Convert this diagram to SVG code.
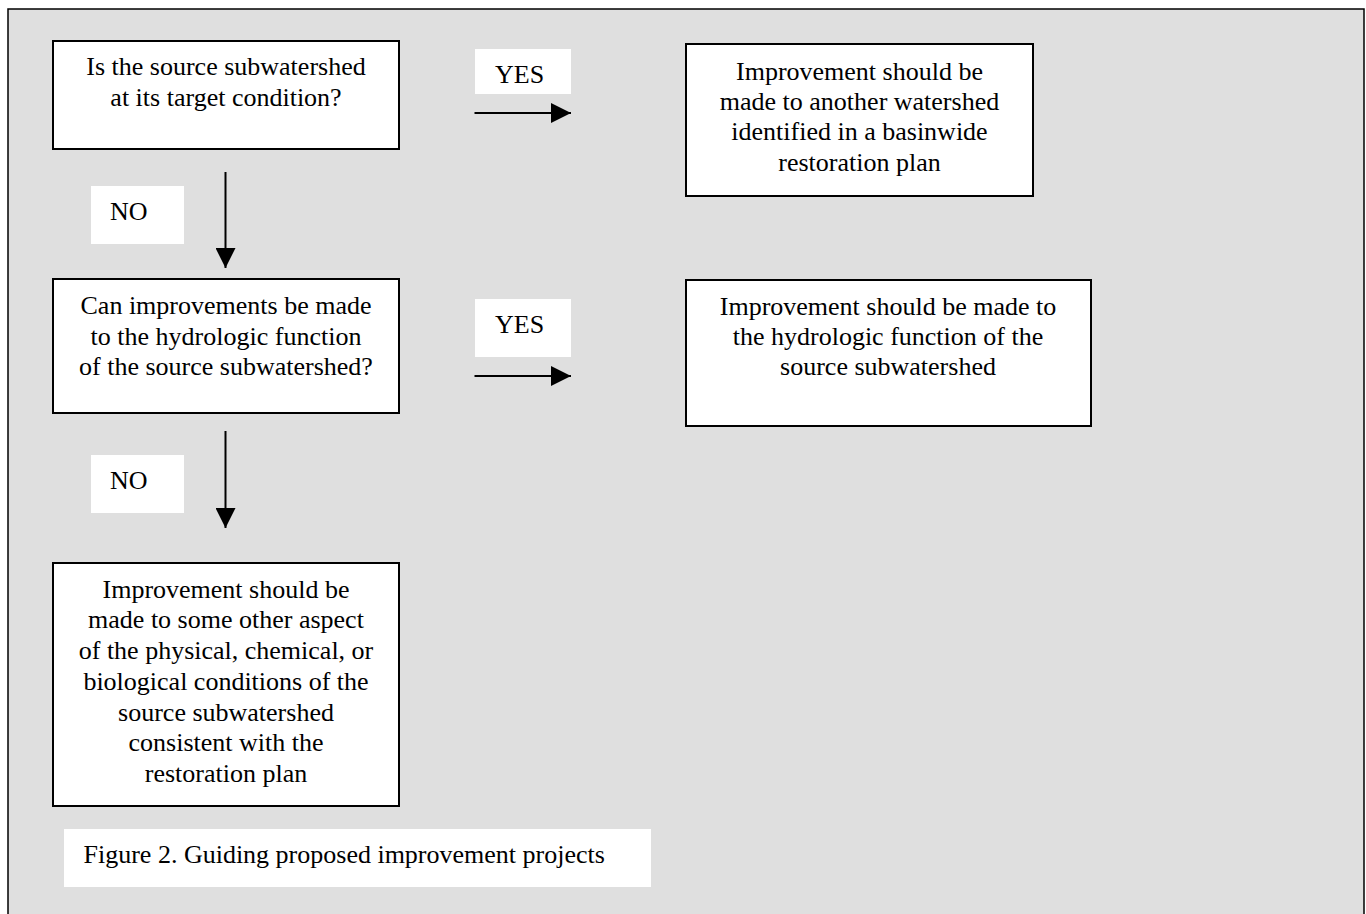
<svg xmlns="http://www.w3.org/2000/svg" width="1366" height="914" viewBox="0 0 1366 914">
<defs>
<style>
.box{fill:#ffffff;stroke:#000000;stroke-width:2}
.lbl{fill:#ffffff;stroke:none}
.t{font-family:"Liberation Serif","Times New Roman",serif;font-size:26px;fill:#000000}
.c{text-anchor:middle}
.conn{stroke:#000000;stroke-width:2;fill:none}
</style>
<marker id="ah" viewBox="0 0 20 20" refX="20" refY="10" markerWidth="20" markerHeight="20" markerUnits="userSpaceOnUse" orient="auto">
<path d="M0,0 L20,10 L0,20 Z" fill="#000000"/>
</marker>
</defs>
<rect x="0" y="0" width="1366" height="914" fill="#ffffff"/>
<rect x="8" y="9" width="1356" height="910" fill="#dfdfdf" stroke="#000000" stroke-width="1.5"/>

<g id="q1">
<rect class="box" x="53" y="41" width="346" height="108"/>
<text class="t c" x="226" y="75">Is the source subwatershed</text>
<text class="t c" x="226" y="106">at its target condition?</text>
</g>

<g id="r1">
<rect class="box" x="686" y="44" width="347" height="152"/>
<text class="t c" x="859.5" y="80">Improvement should be</text>
<text class="t c" x="859.5" y="110">made to another watershed</text>
<text class="t c" x="859.5" y="140">identified in a basinwide</text>
<text class="t c" x="859.5" y="171">restoration plan</text>
</g>

<g id="q2">
<rect class="box" x="53" y="279" width="346" height="134"/>
<text class="t c" x="226" y="314">Can improvements be made</text>
<text class="t c" x="226" y="345">to the hydrologic function</text>
<text class="t c" x="226" y="375">of the source subwatershed?</text>
</g>

<g id="r2">
<rect class="box" x="686" y="280" width="405" height="146"/>
<text class="t c" x="888" y="315">Improvement should be made to</text>
<text class="t c" x="888" y="345">the hydrologic function of the</text>
<text class="t c" x="888" y="375">source subwatershed</text>
</g>

<g id="r3">
<rect class="box" x="53" y="563" width="346" height="243"/>
<text class="t c" x="226" y="598">Improvement should be</text>
<text class="t c" x="226" y="628">made to some other aspect</text>
<text class="t c" x="226" y="659">of the physical, chemical, or</text>
<text class="t c" x="226" y="690">biological conditions of the</text>
<text class="t c" x="226" y="721">source subwatershed</text>
<text class="t c" x="226" y="751">consistent with the</text>
<text class="t c" x="226" y="782">restoration plan</text>
</g>

<g id="connectors">
<line class="conn" x1="474.5" y1="113" x2="571" y2="113" marker-end="url(#ah)"/>
<line class="conn" x1="474.5" y1="376" x2="571" y2="376" marker-end="url(#ah)"/>
<line class="conn" x1="225.5" y1="172" x2="225.5" y2="268" marker-end="url(#ah)"/>
<line class="conn" x1="225.5" y1="431" x2="225.5" y2="528" marker-end="url(#ah)"/>
</g>

<g id="labels">
<g id="yes1">
<rect class="lbl" x="475" y="49" width="96" height="45"/>
<text class="t" x="495" y="83">YES</text>
</g>
<g id="yes2">
<rect class="lbl" x="475" y="299" width="96" height="58"/>
<text class="t" x="495" y="333">YES</text>
</g>
<g id="no1">
<rect class="lbl" x="91" y="186" width="93" height="58"/>
<text class="t" x="110" y="220">NO</text>
</g>
<g id="no2">
<rect class="lbl" x="91" y="455" width="93" height="58"/>
<text class="t" x="110" y="489">NO</text>
</g>
</g>

<g id="caption">
<rect class="lbl" x="64" y="829" width="587" height="58"/>
<text class="t" x="83.5" y="863">Figure 2. Guiding proposed improvement projects</text>
</g>
</svg>
